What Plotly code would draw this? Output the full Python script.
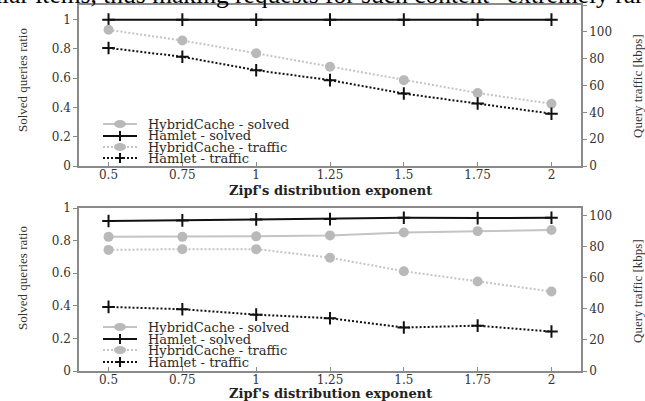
import plotly.graph_objects as go

# ---------------- data ----------------
zipf_exponent = [0.5, 0.75, 1.0, 1.25, 1.5, 1.75, 2.0]
x_tick_labels = ["0.5", "0.75", "1", "1.25", "1.5", "1.75", "2"]

# top panel
top_hybrid_solved = [None, None, None, None, None, None, None]   # not visible (hidden/off-scale)
top_hamlet_solved = [1.0, 1.0, 1.0, 1.0, 1.0, 1.0, 1.0]
top_hybrid_traffic = [101.5, 93.5, 84.0, 74.0, 64.0, 54.4, 46.4]   # kbps
top_hamlet_traffic = [88.0, 81.4, 71.4, 64.0, 54.0, 46.6, 39.0]    # kbps

# bottom panel
bot_hybrid_solved = [0.823, 0.823, 0.826, 0.832, 0.850, 0.858, 0.865]
bot_hamlet_solved = [0.920, 0.924, 0.930, 0.932, 0.940, 0.938, 0.940]
bot_hybrid_traffic = [78.0, 78.5, 78.5, 73.0, 64.3, 57.6, 51.2]   # kbps
bot_hamlet_traffic = [41.3, 39.8, 36.3, 34.0, 28.0, 29.2, 25.4]   # kbps

legend_labels = ["HybridCache - solved", "Hamlet - solved",
                 "HybridCache - traffic", "Hamlet - traffic"]
left_ticks = [0, 0.2, 0.4, 0.6, 0.8, 1]
top_right_ticks = [0, 20, 40, 60, 80, 100, 120]
bot_right_ticks = [0, 20, 40, 60, 80, 100]

x_title = "Zipf's distribution exponent"
left_title = "Solved queries ratio"
right_title = "Query traffic [kbps]"
header_text = "popular items, thus making requests for such content \u201cextremely rare, and"

# ---------------- geometry ----------------
W, H = 645, 401
L, R, T, B = 79, 581, 5, 371


def px2x(px):
    return (px - L) / (R - L)


def py2y(py):
    return (B - py) / (B - T)


TOP_DOM = [py2y(166), 1.0]
BOT_DOM = [0.0, py2y(208)]

GRAY = "#b9b9b9"
GRAY_LINE = "#c4c4c4"
BLACK = "#111111"
DOT = "2px,2px"

styles = [
    dict(color=GRAY_LINE, dash="solid", msym="circle", mcol=GRAY),
    dict(color=BLACK, dash="solid", msym="cross-thin", mcol=BLACK),
    dict(color=GRAY_LINE, dash=DOT, msym="circle", mcol=GRAY),
    dict(color=BLACK, dash=DOT, msym="cross-thin", mcol=BLACK),
]

fig = go.Figure()


def add_series(y, st, xa, ya, name):
    if st["msym"] == "circle":
        marker = dict(symbol="circle", size=10, color=st["mcol"], line=dict(width=0))
    else:
        marker = dict(symbol="cross-thin", size=9, color=BLACK, line=dict(width=2, color=BLACK))
    fig.add_trace(go.Scatter(
        x=zipf_exponent, y=y, mode="lines+markers", name=name,
        line=dict(color=st["color"], width=2, dash=st["dash"]),
        marker=marker, xaxis=xa, yaxis=ya, showlegend=False, cliponaxis=False,
    ))


# order: gray first so black drawn on top
add_series(top_hybrid_solved, styles[0], "x", "y", legend_labels[0])
add_series(top_hybrid_traffic, styles[2], "x", "y2", legend_labels[2])
add_series(top_hamlet_traffic, styles[3], "x", "y2", legend_labels[3])
add_series(top_hamlet_solved, styles[1], "x", "y", legend_labels[1])

add_series(bot_hybrid_solved, styles[0], "x2", "y3", legend_labels[0])
add_series(bot_hybrid_traffic, styles[2], "x2", "y4", legend_labels[2])
add_series(bot_hamlet_traffic, styles[3], "x2", "y4", legend_labels[3])
add_series(bot_hamlet_solved, styles[1], "x2", "y3", legend_labels[1])

TICKFONT = dict(family="DejaVu Serif", size=12, color="#333333")
TITLEFONT = dict(family="DejaVu Serif", size=13, color="#222222", weight="bold")
FRAME = "#8a8a8a"

xcommon = dict(range=[0.4, 2.1], tickvals=zipf_exponent, ticktext=x_tick_labels,
               ticks="inside", ticklen=4, tickcolor=FRAME, showgrid=False, zeroline=False,
               showline=True, linecolor=FRAME, linewidth=1.5, mirror=True,
               tickfont=TICKFONT, automargin=False, ticklabelstandoff=-3)
ycommon = dict(ticks="outside", ticklen=4, tickcolor=FRAME, showgrid=False, zeroline=False,
               showline=True, linecolor=FRAME, linewidth=1.5, tickfont=TICKFONT,
               automargin=False)

fig.update_layout(
    width=W, height=H,
    margin=dict(l=L, r=W - R, t=T, b=H - B),
    paper_bgcolor="white", plot_bgcolor="white",
    showlegend=False,
    xaxis=dict(**xcommon, domain=[0, 1], anchor="y"),
    yaxis=dict(**ycommon, domain=TOP_DOM, range=[0, 1.1], tickvals=left_ticks, anchor="x",
               mirror=False),
    yaxis2=dict(**ycommon, overlaying="y", side="right", range=[0, 120], tickvals=top_right_ticks,
                anchor="x"),
    xaxis2=dict(**xcommon, domain=[0, 1], anchor="y3"),
    yaxis3=dict(**ycommon, domain=BOT_DOM, range=[0, 1.0], tickvals=left_ticks, anchor="x2"),
    yaxis4=dict(**ycommon, overlaying="y3", side="right", range=[0, 105], tickvals=bot_right_ticks,
                anchor="x2"),
)

shapes = []
annotations = []

# custom compact legends (one per panel)
for rows in ([124, 136, 147, 158], [327, 339, 350, 362]):
    for label, st, ry in zip(legend_labels, styles, rows):
        shapes.append(dict(type="line", xref="paper", yref="paper",
                           x0=px2x(103), x1=px2x(137), y0=py2y(ry), y1=py2y(ry),
                           line=dict(color=st["color"], width=2, dash=st["dash"])))
        if st["msym"] == "circle":
            shapes.append(dict(type="circle", xref="paper", yref="paper",
                               x0=px2x(114), x1=px2x(126), y0=py2y(ry + 4), y1=py2y(ry - 4),
                               fillcolor=GRAY, line=dict(width=0)))
        else:
            shapes.append(dict(type="line", xref="paper", yref="paper",
                               x0=px2x(115), x1=px2x(125), y0=py2y(ry), y1=py2y(ry),
                               line=dict(color=BLACK, width=2)))
            shapes.append(dict(type="line", xref="paper", yref="paper",
                               x0=px2x(120), x1=px2x(120), y0=py2y(ry - 5), y1=py2y(ry + 5),
                               line=dict(color=BLACK, width=2)))
        annotations.append(dict(text=label, xref="paper", yref="paper",
                                x=px2x(146), y=py2y(ry), xanchor="left", yanchor="middle",
                                showarrow=False,
                                font=dict(family="DejaVu Serif", size=13, color="#2a2a2a")))

# x-axis titles (one per panel)
for cy in (190, 393.5):
    annotations.append(dict(text=x_title, xref="paper", yref="paper", x=px2x(330), y=py2y(cy),
                            showarrow=False, font=TITLEFONT, xanchor="center", yanchor="middle"))

# y-axis titles
YT_FONT = dict(family="Liberation Serif", size=13, color="#333333")
for cy in (80, 278):
    annotations.append(dict(text=left_title, xref="paper", yref="paper", x=px2x(22), y=py2y(cy),
                            textangle=-90, showarrow=False, font=YT_FONT,
                            xanchor="center", yanchor="middle"))
for cy in (86, 291):
    annotations.append(dict(text=right_title, xref="paper", yref="paper", x=px2x(637), y=py2y(cy),
                            textangle=-90, showarrow=False, font=YT_FONT,
                            xanchor="center", yanchor="middle"))

# cropped page text at the very top
annotations.append(dict(text=header_text, xref="paper", yref="paper",
                        x=px2x(-51), y=py2y(-5), xanchor="left", yanchor="middle",
                        showarrow=False,
                        font=dict(family="Liberation Serif", size=25.5, color="#000000")))

fig.update_layout(shapes=shapes, annotations=annotations)

fig.write_html("out.html",
               config={"displayModeBar": False},
               post_script="document.body.style.margin='0';document.body.style.padding='0';")
